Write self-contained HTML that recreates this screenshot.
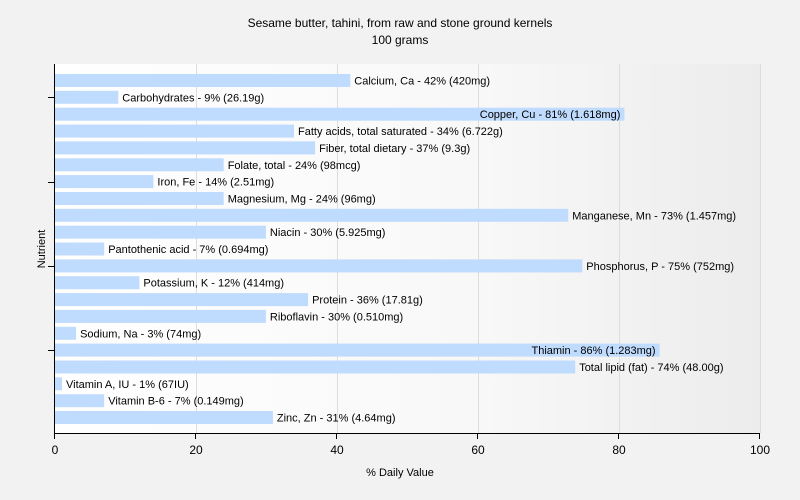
<!DOCTYPE html>
<html><head><meta charset="utf-8"><style>
html,body{margin:0;padding:0;background:#f2f2f2;}
svg{display:block;font-family:"Liberation Sans",sans-serif;}
</style></head><body>
<svg id="c" width="800" height="500" xmlns="http://www.w3.org/2000/svg">
<defs><linearGradient id="g" x1="0" x2="1" y1="0" y2="0">
<stop offset="0" stop-color="#ffffff"/><stop offset="0.6" stop-color="#f8f8f8"/><stop offset="1" stop-color="#ececec"/></linearGradient></defs>
<rect width="800" height="500" fill="#f2f2f2"/>
<rect x="55" y="64" width="705" height="369" fill="url(#g)"/>
<g stroke="#dddddd" stroke-width="1">
<line x1="196.5" y1="64" x2="196.5" y2="433"/><line x1="337.5" y1="64" x2="337.5" y2="433"/>
<line x1="478.5" y1="64" x2="478.5" y2="433"/><line x1="619.5" y1="64" x2="619.5" y2="433"/>
<line x1="760.5" y1="64" x2="760.5" y2="433"/></g>
<g id="bars"></g>
<g stroke="#000" stroke-width="1">
<line x1="54.5" y1="64" x2="54.5" y2="434"/><line x1="54" y1="433.5" x2="760" y2="433.5"/>
<line x1="48" y1="97.5" x2="54" y2="97.5"/><line x1="48" y1="182.5" x2="54" y2="182.5"/>
<line x1="48" y1="266.5" x2="54" y2="266.5"/><line x1="48" y1="350.5" x2="54" y2="350.5"/>
<line x1="54.5" y1="433" x2="54.5" y2="439"/><line x1="195.5" y1="433" x2="195.5" y2="439"/>
<line x1="336.5" y1="433" x2="336.5" y2="439"/><line x1="477.5" y1="433" x2="477.5" y2="439"/>
<line x1="618.5" y1="433" x2="618.5" y2="439"/><line x1="759.5" y1="433" x2="759.5" y2="439"/>
</g>
<g font-size="12" fill="#000" text-anchor="middle">
<text x="55" y="454">0</text><text x="196" y="454">20</text><text x="337" y="454">40</text>
<text x="478" y="454">60</text><text x="619" y="454">80</text><text x="760" y="454">100</text>
</g>
<text x="400" y="476" font-size="11" text-anchor="middle">% Daily Value</text>
<text x="45" y="249" font-size="11" text-anchor="middle" transform="rotate(-90 45 249)">Nutrient</text>
<text x="400" y="27" font-size="12" text-anchor="middle">Sesame butter, tahini, from raw and stone ground kernels</text>
<text x="400" y="44" font-size="12" text-anchor="middle">100 grams</text>
</svg>
<script>
var d=[["Calcium, Ca - 42% (420mg)",42],["Carbohydrates - 9% (26.19g)",9],["Copper, Cu - 81% (1.618mg)",81],["Fatty acids, total saturated - 34% (6.722g)",34],["Fiber, total dietary - 37% (9.3g)",37],["Folate, total - 24% (98mcg)",24],["Iron, Fe - 14% (2.51mg)",14],["Magnesium, Mg - 24% (96mg)",24],["Manganese, Mn - 73% (1.457mg)",73],["Niacin - 30% (5.925mg)",30],["Pantothenic acid - 7% (0.694mg)",7],["Phosphorus, P - 75% (752mg)",75],["Potassium, K - 12% (414mg)",12],["Protein - 36% (17.81g)",36],["Riboflavin - 30% (0.510mg)",30],["Sodium, Na - 3% (74mg)",3],["Thiamin - 86% (1.283mg)",86],["Total lipid (fat) - 74% (48.00g)",74],["Vitamin A, IU - 1% (67IU)",1],["Vitamin B-6 - 7% (0.149mg)",7],["Zinc, Zn - 31% (4.64mg)",31]];
var g=document.getElementById('bars'),s="";
d.forEach(function(r,i){var y=74+i*16.85,w=r[1]*7.03,e=55+w;
s+='<rect x="55" y="'+y.toFixed(1)+'" width="'+w.toFixed(1)+'" height="13" fill="#bfdbfd"/>';
var inside=(r[1]==81||r[1]==86);
s+='<text font-size="11" fill="#000" y="'+(y+10.5).toFixed(1)+'" x="'+(inside?e-4:e+4).toFixed(1)+'"'+(inside?' text-anchor="end"':'')+'>'+r[0]+'</text>';});
g.innerHTML=s;
</script>
</body></html>
